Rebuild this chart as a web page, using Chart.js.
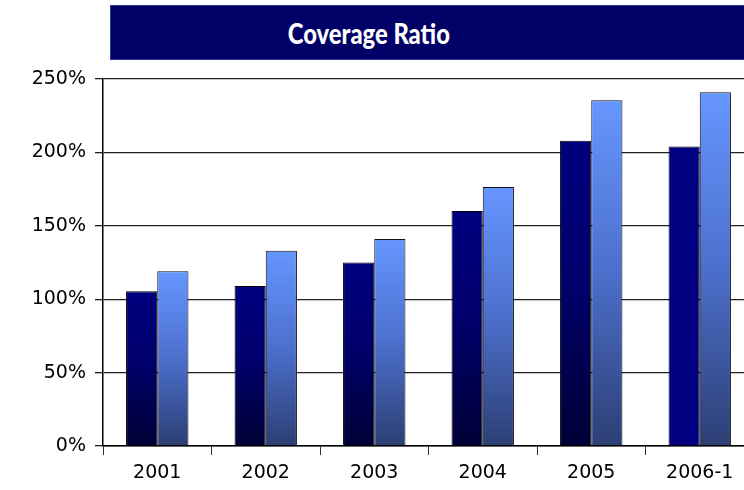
<!DOCTYPE html>
<html lang="en">
<head>
  <meta charset="UTF-8">
  <title>Coverage Ratio</title>
  <script src="https://cdn.jsdelivr.net/npm/chart.js"></script>
  <style>
    html, body { margin: 0; padding: 0; overflow: hidden; background: #fff; width: 744px; height: 490px; }
    #titleBox { position: absolute; left: 110px; top: 5px; width: 660px; height: 53px;
      background: #000066; border: 1px solid #2a3a9a; }
    #titleText { width: 516px; text-align: center; color: #fff; font-family: Lato, sans-serif;
      font-weight: 900; font-size: 29px; line-height: 53px; }
    #titleText span { display: inline-block; transform: scaleX(0.82); }
    canvas { position: absolute; left: 0; top: 0; }
  </style>
</head>
<body>
  <div id="titleBox"><div id="titleText"><span>Coverage Ratio</span></div></div>
  <canvas id="ratioChart" width="756" height="490"></canvas>

  <script>
    const years = ["2001", "2002", "2003", "2004", "2005", "2006-1"];
    const seriesA = [105.5, 109, 125, 160, 208, 204];
    const seriesB = [119, 133, 141, 176.5, 235.5, 241];

    // vertical gradient per bar, from its top down to the baseline
    function barFill(stops) {
      return function (ctx) {
        const chart = ctx.chart;
        if (!chart.chartArea || ctx.raw == null) return stops[0][1];
        const y = chart.scales.y;
        const top = y.getPixelForValue(ctx.raw);
        const base = y.getPixelForValue(0);
        const g = chart.ctx.createLinearGradient(0, top, 0, base);
        stops.forEach(s => g.addColorStop(s[0], s[1]));
        return g;
      };
    }

    const darkFill = barFill([[0, "#000080"], [0.45, "#00006c"], [1, "#000036"]]);
    const lightFill = barFill([[0, "#6596ff"], [0.5, "#4c6fcc"], [1, "#2c3f74"]]);

    new Chart(document.getElementById("ratioChart"), {
      type: "bar",
      data: {
        labels: years,
        datasets: [
          {
            data: seriesA,
            backgroundColor: ctx => ctx.dataIndex === 5 ? "#000080" : darkFill(ctx),
            borderColor: "#000",
            borderWidth: 1,
            borderSkipped: "bottom"
          },
          {
            data: seriesB,
            backgroundColor: lightFill,
            borderColor: "#111",
            borderWidth: 1,
            borderSkipped: "bottom"
          }
        ]
      },
      options: {
        responsive: false,
        animation: false,
        layout: { padding: { top: 79, right: 2, bottom: 0, left: 0 } },
        plugins: { legend: { display: false }, tooltip: { enabled: false } },
        datasets: { bar: { barPercentage: 1, categoryPercentage: 0.575 } },
        scales: {
          x: {
            grid: { drawOnChartArea: false, color: "#333", tickLength: 9 },
            border: { color: "#000", width: 1.5 },
            ticks: { color: "#000", font: { family: "DejaVu Sans", size: 19 }, padding: 7 },
            afterFit: s => { s.height = 44; }
          },
          y: {
            min: 0, max: 250,
            grid: { color: "#222", lineWidth: 1.3, tickLength: 8 },
            border: { color: "#000", width: 1.5 },
            ticks: {
              stepSize: 50,
              color: "#000",
              font: { family: "DejaVu Sans", size: 19 },
              padding: 9,
              callback: v => v + "%"
            },
            afterFit: s => { s.width = 103; }
          }
        }
      }
    });
  </script>
</body>
</html>
